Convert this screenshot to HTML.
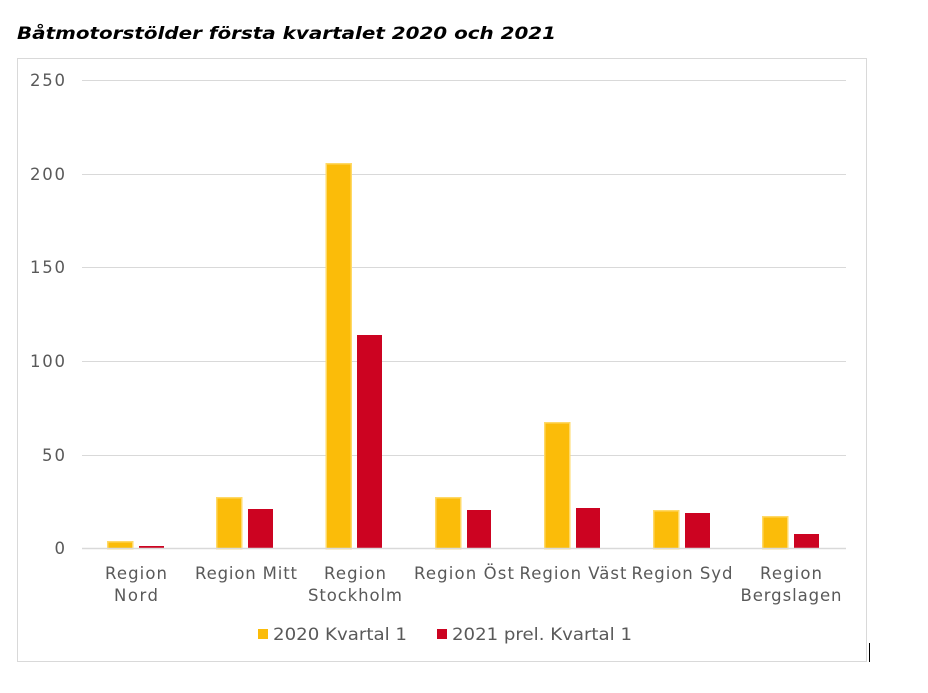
<!DOCTYPE html>
<html><head><meta charset="utf-8"><style>
html,body{margin:0;padding:0;background:#fff;}
svg{display:block;}
text{font-family:"DejaVu Sans","Liberation Sans",sans-serif;}
</style></head><body>
<svg width="928" height="693" viewBox="0 0 928 693" xmlns="http://www.w3.org/2000/svg">
<text x="17" y="39" font-size="17" font-weight="bold" font-style="italic" fill="#000" textLength="539" lengthAdjust="spacingAndGlyphs">Båtmotorstölder första kvartalet 2020 och 2021</text>
<rect x="17.5" y="58.5" width="849" height="603" fill="#fff" stroke="#d9d9d9"/>
<g stroke="#d9d9d9" stroke-width="1">
<line x1="82" x2="846" y1="80.5" y2="80.5"/>
<line x1="82" x2="846" y1="174.5" y2="174.5"/>
<line x1="82" x2="846" y1="267.5" y2="267.5"/>
<line x1="82" x2="846" y1="361.5" y2="361.5"/>
<line x1="82" x2="846" y1="455.5" y2="455.5"/>
</g>
<g font-size="16.5" fill="#595959" text-anchor="end" lengthAdjust="spacingAndGlyphs">
<text x="65" y="86" textLength="35">250</text>
<text x="65" y="180" textLength="35">200</text>
<text x="65" y="273" textLength="35">150</text>
<text x="65" y="367" textLength="35">100</text>
<text x="65" y="461" textLength="23">50</text>
<text x="65" y="554">0</text>
</g>
<g fill="#fbbc09" stroke="#ffd966" stroke-width="1.5">
<rect x="107.75" y="541.75" width="25" height="7"/>
<rect x="216.75" y="497.75" width="25" height="51"/>
<rect x="326.25" y="163.75" width="25" height="385"/>
<rect x="435.75" y="497.75" width="25" height="51"/>
<rect x="544.75" y="422.75" width="25" height="126"/>
<rect x="653.75" y="510.75" width="25" height="38"/>
<rect x="762.75" y="516.75" width="25" height="32"/>
</g>
<g fill="#cc0321">
<rect x="139" y="546" width="25" height="2.5"/>
<rect x="248" y="509" width="25" height="39.5"/>
<rect x="357" y="335" width="25" height="213.5"/>
<rect x="467" y="510" width="24" height="38.5"/>
<rect x="576" y="508" width="24" height="40.5"/>
<rect x="685" y="513" width="25" height="35.5"/>
<rect x="794" y="534" width="25" height="14.5"/>
</g>
<line x1="82" x2="846" y1="548.5" y2="548.5" stroke="#d9d9d9" stroke-width="1.5"/>
<g font-size="16.5" fill="#595959" text-anchor="middle" lengthAdjust="spacingAndGlyphs">
<text x="136" y="579" textLength="62">Region</text><text x="136" y="601" textLength="44">Nord</text>
<text x="246" y="579" textLength="102">Region Mitt</text>
<text x="355" y="579" textLength="62">Region</text><text x="355" y="601" textLength="94">Stockholm</text>
<text x="464" y="579" textLength="100">Region Öst</text>
<text x="573" y="579" textLength="107">Region Väst</text>
<text x="682" y="579" textLength="101">Region Syd</text>
<text x="791" y="579" textLength="62">Region</text><text x="791" y="601" textLength="101">Bergslagen</text>
</g>
<rect x="258" y="629" width="10" height="10" fill="#fbbc09"/>
<text x="273" y="640" font-size="16.5" fill="#595959" textLength="134" lengthAdjust="spacingAndGlyphs">2020 Kvartal 1</text>
<rect x="437" y="629" width="10" height="10" fill="#cc0321"/>
<text x="452" y="640" font-size="16.5" fill="#595959" textLength="180" lengthAdjust="spacingAndGlyphs">2021 prel. Kvartal 1</text>
<line x1="869.5" x2="869.5" y1="643" y2="662" stroke="#000" stroke-width="1"/>
</svg>
</body></html>
